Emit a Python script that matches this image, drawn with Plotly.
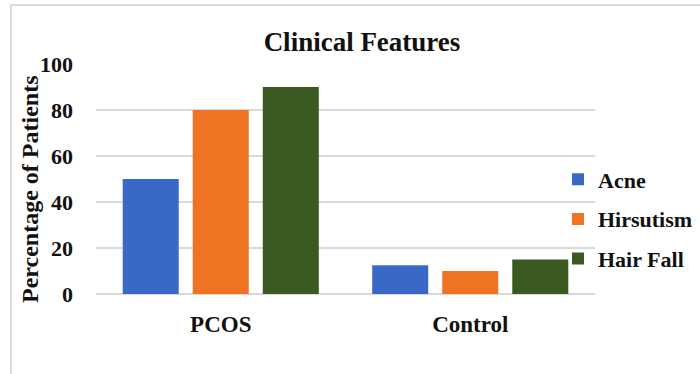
import plotly.graph_objects as go

categories = ["PCOS", "Control"]
acne = [50, 12.5]
hirsutism = [80, 10]
hair_fall = [90, 15]
series_names = ["Acne", "Hirsutism", "Hair Fall"]
colors = ["#3A68C6", "#EE7424", "#3A5A22"]
y_ticks = [0, 20, 40, 60, 80, 100]

FONT = "Liberation Serif"
L, R_EDGE, W = 96, 595, 700
PW = W - L  # paper width in px (r margin = 0)


def px_x(px):
    return (px - L) / PW


fig = go.Figure()
for name, vals, col in zip(series_names, [acne, hirsutism, hair_fall], colors):
    fig.add_trace(go.Bar(
        name=name, x=categories, y=vals, legendgroup=name,
        marker=dict(color=col, line=dict(width=0)),
    ))

fig.update_layout(
    width=W, height=374,
    margin=dict(l=L, r=0, t=64, b=80),
    paper_bgcolor="white", plot_bgcolor="white",
    barmode="group", bargap=0.158, bargroupgap=0.2,
    font=dict(family=FONT, color="#111111"),
    title=dict(text="<b>Clinical Features</b>", x=362 / 700, xanchor="center",
               y=1 - 42 / 374, yanchor="middle", automargin=False,
               font=dict(family=FONT, size=27, color="#111111")),
    legend=dict(x=px_x(558), xanchor="left", y=(294 - 219) / 230, yanchor="middle",
                font=dict(family=FONT, size=22, color="#111111", weight="bold"),
                tracegroupgap=8, itemwidth=30, bgcolor="rgba(0,0,0,0)"),
    showlegend=True,
)
fig.update_yaxes(
    range=[0, 100], tickvals=y_ticks, showgrid=True, gridcolor="#D9D9D9", gridwidth=1.5,
    zeroline=True, zerolinecolor="#D9D9D9", zerolinewidth=1.5, automargin=False,
    showline=False, ticks="", ticklabelstandoff=22,
    tickfont=dict(family=FONT, size=22, color="#111111", weight="bold"),
)
fig.update_xaxes(
    domain=[0, px_x(R_EDGE)],
    showgrid=False, showline=False, ticks="", automargin=False,
    tickfont=dict(family=FONT, size=23, color="#111111", weight="bold"),
    ticklabelstandoff=14,
)
fig.add_annotation(text="<b>Percentage of Patients</b>", textangle=-90,
                   xref="paper", yref="paper", x=px_x(30), y=(294 - 190) / 230,
                   xanchor="center", yanchor="middle", showarrow=False,
                   font=dict(family=FONT, size=24, color="#111111"))
fig.add_shape(type="rect", xref="paper", yref="paper",
              x0=px_x(11), x1=px_x(720),
              y0=(294 - 400) / 230, y1=(294 - 5) / 230,
              line=dict(color="#D0D0D0", width=1.5), fillcolor="rgba(0,0,0,0)", layer="below")

fig.write_html("out.html", config={"displayModeBar": False},
               post_script="document.body.style.margin='0';")
